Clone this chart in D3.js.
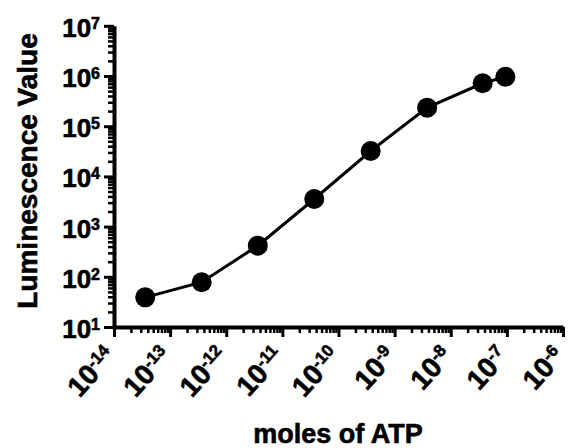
<!DOCTYPE html>
<html>
<head>
<meta charset="utf-8">
<script src="https://cdn.jsdelivr.net/npm/d3@7"></script>
<style>
  body { margin: 0; background: #fff; }
  text { font-family: "Liberation Sans", Arial, Helvetica, sans-serif; font-weight: bold; fill: #000; stroke: #000; stroke-width: 0.6px; }
</style>
</head>
<body>
<div id="vis"></div>
<script>
// ATP standard curve
const molesATP = [3.6e-14, 3.65e-13, 3.65e-12, 3.7e-11, 3.75e-10, 3.8e-9, 3.7e-8, 9.4e-8];
const luminescence = [39, 78, 417, 3550, 32000, 234000, 716000, 968000];

const xTickExps = [-14, -13, -12, -11, -10, -9, -8, -7, -6];
const yTickExps = [1, 2, 3, 4, 5, 6, 7];

const svg = d3.select("#vis").append("svg")
  .attr("width", 568)
  .attr("height", 448);

const x = d3.scaleLog()
  .domain([1e-14, 1e-6])
  .range([114, 563]);

const y = d3.scaleLog()
  .domain([1e1, 1e7])
  .range([327, 25.8]);

const isMajor = d => Math.abs(Math.log10(d) - Math.round(Math.log10(d))) < 1e-6;

// x axis
const xAxis = svg.append("g")
  .attr("transform", `translate(0,${y.range()[0]})`)
  .call(d3.axisBottom(x).tickValues(x.ticks()).tickFormat("").tickSize(6).tickSizeOuter(0));

// y axis
const yAxis = svg.append("g")
  .attr("transform", `translate(${x.range()[0]},0)`)
  .call(d3.axisLeft(y).tickValues(y.ticks()).tickFormat("").tickSize(6).tickSizeOuter(0));

[xAxis, yAxis].forEach(ax => {
  ax.select(".domain").attr("stroke", "#000").attr("stroke-width", 4);
  ax.selectAll(".tick line")
    .attr("stroke", "#000")
    .attr("stroke-width", d => isMajor(d) ? 3 : 2.5);
});
xAxis.selectAll(".tick line").attr("y2", d => isMajor(d) ? 10 : 6);
yAxis.selectAll(".tick line").attr("x2", d => isMajor(d) ? -10 : -6);

// y tick labels
yTickExps.forEach(e => {
  const t = svg.append("text")
    .attr("x", 100)
    .attr("y", y(Math.pow(10, e)) + 11)
    .attr("text-anchor", "end")
    .style("font-size", "26px");
  t.append("tspan").text("10");
  t.append("tspan").style("font-size", "16px").attr("dy", -8).text(e);
});

// x tick labels (rotated)
xTickExps.forEach(e => {
  const px = x(Math.pow(10, e));
  const t = svg.append("text")
    .attr("transform", `translate(${px + 3},${y.range()[0] + 30}) rotate(-48)`)
    .attr("text-anchor", "end")
    .style("font-size", "28px");
  t.append("tspan").text("10");
  t.append("tspan").style("font-size", "17px").attr("dy", -9).text("-" + Math.abs(e));
});

// axis titles
svg.append("text")
  .attr("x", 338)
  .attr("y", 443)
  .attr("text-anchor", "middle")
  .style("font-size", "27px")
  .text("moles of ATP");

svg.append("text")
  .attr("transform", `translate(37,171) rotate(-90)`)
  .attr("text-anchor", "middle")
  .style("font-size", "28px")
  .text("Luminescence Value");

// data line and points
const data = molesATP.map((m, i) => ({ m, v: luminescence[i] }));

svg.append("path")
  .datum(data)
  .attr("fill", "none")
  .attr("stroke", "#000")
  .attr("stroke-width", 3)
  .attr("d", d3.line().x(d => x(d.m)).y(d => y(d.v)));

svg.selectAll("circle")
  .data(data)
  .join("circle")
  .attr("cx", d => x(d.m))
  .attr("cy", d => y(d.v))
  .attr("r", 10)
  .attr("fill", "#000");
</script>
</body>
</html>
